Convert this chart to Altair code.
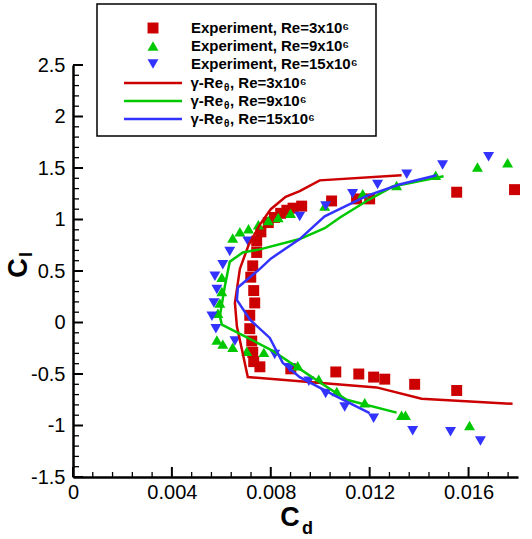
import altair as alt
import pandas as pd

# ---------------- data ----------------
exp3_cd = [0.01786, 0.01552, 0.0120, 0.01147, 0.01046, 0.00925, 0.0089, 0.00865, 0.0084, 0.00815,
           0.0079, 0.0076, 0.00743, 0.00743, 0.00727, 0.00719, 0.00731, 0.00735, 0.00715, 0.00715,
           0.00723, 0.00727, 0.00731, 0.00756, 0.00881, 0.01063, 0.01156, 0.01216, 0.01261, 0.01382, 0.01552]
exp3_cl = [1.29, 1.265, 1.20, 1.20, 1.18, 1.13, 1.11, 1.09, 1.06, 1.02,
           0.97, 0.88, 0.79, 0.68, 0.55, 0.44, 0.31, 0.19, 0.07, -0.06,
           -0.18, -0.29, -0.38, -0.43, -0.45, -0.48, -0.50, -0.53, -0.55, -0.60, -0.66]

exp9_cd = [0.01758, 0.01636, 0.01467, 0.01309, 0.01172, 0.01018, 0.0088, 0.0083, 0.0079, 0.0075,
           0.0071, 0.00675, 0.00646, 0.00602, 0.00602, 0.00594, 0.00586, 0.00582, 0.00606, 0.00646,
           0.00703, 0.00772, 0.00909, 0.00994, 0.01067, 0.0118, 0.01329, 0.01345, 0.01604]
exp9_cl = [1.55, 1.51, 1.43, 1.33, 1.25, 1.13, 1.06, 1.02, 0.99, 0.95,
           0.91, 0.88, 0.82, 0.44, 0.30, 0.19, 0.09, -0.17, -0.21, -0.24,
           -0.28, -0.29, -0.42, -0.55, -0.67, -0.78, -0.90, -0.90, -1.00]

exp15_cd = [0.01681, 0.01495, 0.0135, 0.01232, 0.01131, 0.01022, 0.00917, 0.00707, 0.00634, 0.00606,
            0.00574, 0.00582, 0.0057, 0.00562, 0.00578, 0.00655, 0.00816, 0.00877, 0.00954, 0.01022,
            0.01099, 0.01216, 0.01374, 0.01527, 0.01648]
exp15_cl = [1.61, 1.53, 1.44, 1.34, 1.25, 1.13, 1.03, 0.79, 0.69, 0.56,
            0.45, 0.32, 0.19, 0.06, -0.06, -0.18, -0.31, -0.44, -0.57, -0.69,
            -0.82, -0.93, -1.05, -1.06, -1.15]

cfd3_cd = [0.01329, 0.00998, 0.00917, 0.0086, 0.0080, 0.00756, 0.0071, 0.00675, 0.00655, 0.00663,
           0.00683, 0.00707, 0.01228, 0.0141, 0.01778]
cfd3_cl = [1.43, 1.38, 1.275, 1.22, 1.10, 0.95, 0.75, 0.52, 0.19, -0.04,
           -0.26, -0.53, -0.63, -0.74, -0.79]

cfd9_cd = [0.01499, 0.01293, 0.01188, 0.0108, 0.01018, 0.00917, 0.00756, 0.00687, 0.00634, 0.00614,
           0.00594, 0.00602, 0.00715, 0.00804, 0.00917, 0.00998, 0.01107, 0.01309]
cfd9_cl = [1.42, 1.32, 1.18, 1.02, 0.915, 0.81, 0.71, 0.68, 0.59, 0.35,
           0.06, -0.02, -0.16, -0.27, -0.45, -0.58, -0.75, -0.875]

cfd15_cd = [0.01471, 0.0132, 0.01188, 0.01018, 0.00917, 0.0080, 0.00756, 0.00667, 0.00663, 0.00715,
            0.00796, 0.00848, 0.00917, 0.01067, 0.0120]
cfd15_cl = [1.43, 1.34, 1.23, 1.03, 0.81, 0.62, 0.52, 0.34, 0.22, 0.03,
            -0.15, -0.39, -0.53, -0.72, -0.88]

exp_names = ["Exp3", "Exp9", "Exp15"]
cfd_names = ["CFD3", "CFD9", "CFD15"]
colors = ["#cc0000", "#00c800", "#3333ff"]
shapes = ["square", "triangle-up", "triangle-down"]

x_major = [0, 0.004, 0.008, 0.012, 0.016]
y_major = [-1.5, -1, -0.5, 0, 0.5, 1, 1.5, 2, 2.5]
x_minor = [round(i * 0.0008, 5) for i in range(1, 23) if i % 5 != 0]
y_minor = [round(-1.5 + i * 0.1, 2) for i in range(1, 40) if i % 5 != 0]

# ---------------- tables ----------------
exp_df = pd.concat([
    pd.DataFrame({"cd": exp3_cd, "cl": exp3_cl, "case": exp_names[0]}),
    pd.DataFrame({"cd": exp9_cd, "cl": exp9_cl, "case": exp_names[1]}),
    pd.DataFrame({"cd": exp15_cd, "cl": exp15_cl, "case": exp_names[2]}),
])
cfd_df = pd.concat([
    pd.DataFrame({"cd": cfd3_cd, "cl": cfd3_cl, "case": cfd_names[0], "i": range(len(cfd3_cd))}),
    pd.DataFrame({"cd": cfd9_cd, "cl": cfd9_cl, "case": cfd_names[1], "i": range(len(cfd9_cd))}),
    pd.DataFrame({"cd": cfd15_cd, "cl": cfd15_cl, "case": cfd_names[2], "i": range(len(cfd15_cd))}),
])

W, H = 445, 412
PL, PT = 73, 65
FONT = "Liberation Sans"

xs = alt.Scale(domain=[0, 0.018], nice=False, zero=False)
ys = alt.Scale(domain=[-1.5, 2.5], nice=False, zero=False)
x_axis = alt.Axis(values=x_major, labelExpr="toString(datum.value)", title=None, ticks=False,
                  tickSize=0, grid=False, labelPadding=5, labelFontSize=20, labelFont=FONT,
                  labelColor="black", domainColor="black", domainWidth=2.5, labelFlush=False)
y_axis = alt.Axis(values=y_major, labelExpr="toString(datum.value)", title=None, ticks=False,
                  tickSize=0, grid=False, labelPadding=8, labelFontSize=20, labelFont=FONT,
                  labelColor="black", domainColor="black", domainWidth=2.5, labelFlush=False)


def X(f):
    return alt.X(f, type="quantitative", scale=xs, axis=x_axis)


def Y(f):
    return alt.Y(f, type="quantitative", scale=ys, axis=y_axis)


points = alt.Chart(exp_df).mark_point(filled=True, opacity=1, size=120).encode(
    x=X("cd"), y=Y("cl"),
    color=alt.Color("case:N", scale=alt.Scale(domain=exp_names, range=colors), legend=None),
    shape=alt.Shape("case:N", scale=alt.Scale(domain=exp_names, range=shapes), legend=None),
)

lines = alt.Chart(cfd_df).mark_line(strokeWidth=2.5).encode(
    x=X("cd"), y=Y("cl"), order="i:Q", detail="case:N",
    color=alt.Color("case:N", scale=alt.Scale(domain=cfd_names, range=colors), legend=None),
)

# inward ticks
xmaj = alt.Chart(pd.DataFrame({"v": x_major})).mark_rule(color="black", strokeWidth=2).encode(
    x=X("v"), y=alt.value(H), y2=alt.value(H - 10))
xmin = alt.Chart(pd.DataFrame({"v": x_minor})).mark_rule(color="black", strokeWidth=1.3).encode(
    x=X("v"), y=alt.value(H), y2=alt.value(H - 5))
ymaj = alt.Chart(pd.DataFrame({"v": y_major})).mark_rule(color="black", strokeWidth=2).encode(
    y=Y("v"), x=alt.value(0), x2=alt.value(10))
ymin = alt.Chart(pd.DataFrame({"v": y_minor})).mark_rule(color="black", strokeWidth=1.3).encode(
    y=Y("v"), x=alt.value(0), x2=alt.value(6))

dummy = pd.DataFrame({"a": [0]})


def txt(s, x, y, size, align="left", angle=0, weight="bold"):
    kw = dict(text=s, fontSize=size, font=FONT, fontWeight=weight, align=align,
              baseline="middle", color="black")
    if angle:
        kw["angle"] = angle
    return alt.Chart(dummy).mark_text(**kw).encode(x=alt.value(x - PL), y=alt.value(y - PT))


layers = [points, lines, xmaj, xmin, ymaj, ymin]

# axis titles
layers += [txt("C", 290, 518, 27), txt("d", 302, 529, 18)]
layers[-2] = alt.Chart(dummy).mark_text(text="C", fontSize=27, font=FONT, fontWeight="bold",
                                        align="center", baseline="middle", color="black").encode(
    x=alt.value(290 - PL), y=alt.value(518 - PT))
layers += [
    alt.Chart(dummy).mark_text(text="C", fontSize=27, font=FONT, fontWeight="bold", align="center",
                               baseline="middle", color="black", angle=270).encode(
        x=alt.value(19 - PL), y=alt.value(268 - PT)),
    alt.Chart(dummy).mark_text(text="l", fontSize=18, font=FONT, fontWeight="bold", align="left",
                               baseline="middle", color="black", angle=270).encode(
        x=alt.value(27 - PL), y=alt.value(257 - PT)),
]

# legend
BX0, BX1, BY0, BY1 = 97, 376, 4, 136
layers.append(alt.Chart(dummy).mark_rect(fill="white", stroke="black", strokeWidth=1.5).encode(
    x=alt.value(BX0 - PL), x2=alt.value(BX1 - PL), y=alt.value(BY0 - PT), y2=alt.value(BY1 - PT)))
rows = [28, 46, 64, 83, 101, 119]
TX = 191
re_txt = ["3", "9", "15"]
for k in range(3):
    yy = rows[k]
    layers.append(alt.Chart(dummy).mark_point(filled=True, opacity=1, size=120, shape=shapes[k],
                                              color=colors[k]).encode(
        x=alt.value(153 - PL), y=alt.value(yy - PT)))
    layers.append(txt("Experiment, Re=" + re_txt[k] + "x10\u2076", TX, yy, 15))
for k in range(3):
    yy = rows[k + 3]
    layers.append(alt.Chart(dummy).mark_rule(color=colors[k], strokeWidth=2.5).encode(
        x=alt.value(124 - PL), x2=alt.value(182 - PL), y=alt.value(yy - PT)))
    xa = TX + 32
    layers.append(txt("\u03b3-Re", xa, yy, 15, align="right"))
    layers.append(txt("\u03b8", xa + 1, yy + 5, 10))
    layers.append(txt(", Re=" + re_txt[k] + "x10\u2076", xa + 7, yy, 15))

chart = alt.layer(*layers).properties(
    width=W, height=H,
    autosize=alt.AutoSizeParams(type="none"),
    padding={"left": PL, "top": PT, "right": 532 - PL - W, "bottom": 539 - PT - H},
    background="white",
).configure_view(strokeWidth=0)

chart.save("out.html", embed_options={"renderer": "svg", "actions": False})
